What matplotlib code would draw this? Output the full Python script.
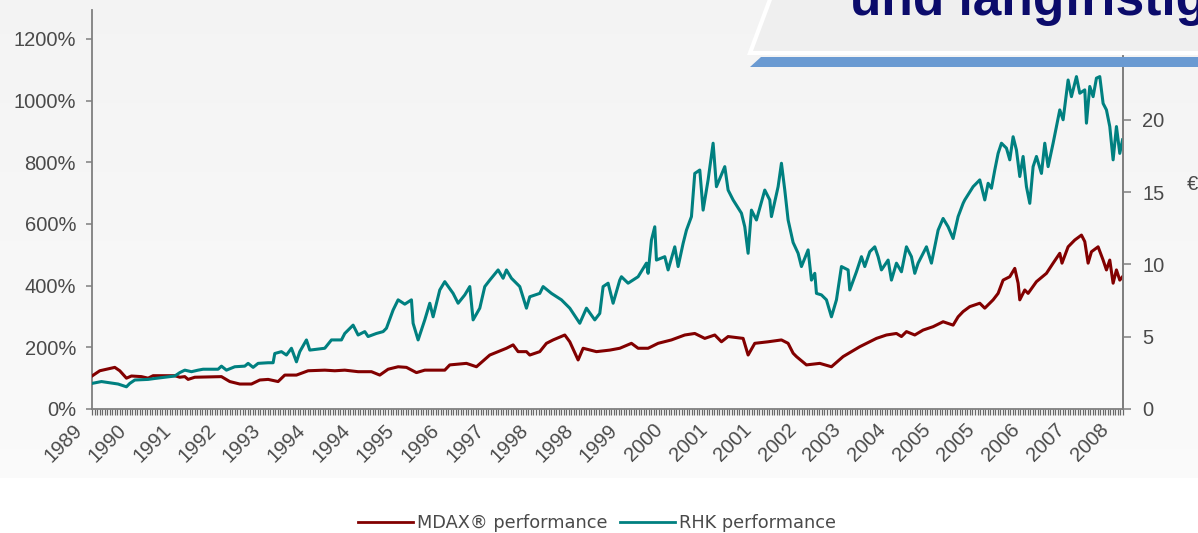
import numpy as np
import matplotlib
matplotlib.use("Agg")
import matplotlib.pyplot as plt
from matplotlib.patches import Polygon
from matplotlib.lines import Line2D
from matplotlib.transforms import ScaledTranslation, blended_transform_factory

# ---------------- data ----------------
mdax_t = [1989.90, 1990.04, 1990.31, 1990.40, 1990.52, 1990.61, 1990.79, 1990.91, 1991.00, 1991.39,
          1991.48, 1991.57, 1991.63, 1991.75, 1992.23, 1992.38, 1992.56, 1992.77, 1992.92, 1993.07,
          1993.25, 1993.37, 1993.58, 1993.79, 1994.09, 1994.27, 1994.45, 1994.69, 1994.93, 1995.08,
          1995.23, 1995.41, 1995.56, 1995.74, 1995.89, 1996.25, 1996.34, 1996.64, 1996.82, 1997.06,
          1997.36, 1997.48, 1997.57, 1997.72, 1997.78, 1997.96, 1998.08, 1998.20, 1998.41, 1998.50,
          1998.65, 1998.74, 1998.98, 1999.22, 1999.40, 1999.61, 1999.73, 1999.91, 2000.09, 2000.33,
          2000.57, 2000.75, 2000.93, 2001.11, 2001.23, 2001.35, 2001.62, 2001.71, 2001.83, 2002.07,
          2002.31, 2002.43, 2002.52, 2002.58, 2002.76, 2003.00, 2003.21, 2003.42, 2003.72, 2004.02,
          2004.20, 2004.38, 2004.47, 2004.56, 2004.71, 2004.86, 2005.04, 2005.22, 2005.40, 2005.49,
          2005.58, 2005.70, 2005.88, 2005.97, 2006.12, 2006.21, 2006.30, 2006.42, 2006.51, 2006.57,
          2006.60, 2006.69, 2006.75, 2006.90, 2007.08, 2007.20, 2007.32, 2007.36, 2007.47, 2007.59,
          2007.71, 2007.77, 2007.83, 2007.89, 2008.01, 2008.10, 2008.16, 2008.22, 2008.28, 2008.34,
          2008.40, 2008.45]
mdax_v = [107, 124, 135, 124, 100, 107, 105, 100, 108, 108,
          103, 105, 96, 103, 105, 89, 81, 81, 94, 96,
          89, 110, 110, 124, 126, 124, 126, 121, 121, 110,
          129, 137, 135, 118, 126, 126, 143, 148, 137, 175,
          197, 208, 186, 186, 175, 186, 213, 224, 240, 218,
          159, 197, 186, 191, 197, 213, 197, 197, 213, 224,
          240, 245, 229, 240, 218, 235, 229, 175, 213, 218,
          224, 213, 181, 170, 143, 148, 137, 170, 202, 229,
          240, 245, 235, 251, 240, 256, 267, 283, 272, 299,
          316, 332, 343, 327, 354, 375, 418, 429, 456, 408,
          354, 386, 375, 413, 440, 473, 505, 473, 526, 548,
          564, 543, 473, 510, 526, 483, 451, 483, 408, 451,
          418, 429]

rhk_t = [1989.90, 1990.07, 1990.37, 1990.52, 1990.58, 1990.67, 1990.91, 1991.03, 1991.21, 1991.39,
         1991.48, 1991.57, 1991.69, 1991.81, 1991.90, 1992.17, 1992.23, 1992.32, 1992.47, 1992.65,
         1992.71, 1992.80, 1992.89, 1993.07, 1993.16, 1993.19, 1993.31, 1993.40, 1993.49, 1993.58,
         1993.64, 1993.76, 1993.82, 1994.09, 1994.21, 1994.39, 1994.45, 1994.60, 1994.69, 1994.81,
         1994.87, 1995.02, 1995.14, 1995.20, 1995.32, 1995.41, 1995.53, 1995.65, 1995.68, 1995.77,
         1995.89, 1995.98, 1996.04, 1996.16, 1996.25, 1996.40, 1996.49, 1996.61, 1996.70, 1996.76,
         1996.88, 1996.97, 1997.06, 1997.21, 1997.30, 1997.36, 1997.45, 1997.60, 1997.72, 1997.78,
         1997.96, 1998.02, 1998.17, 1998.35, 1998.50, 1998.68, 1998.80, 1998.95, 1999.04, 1999.10,
         1999.19, 1999.28, 1999.40, 1999.43, 1999.55, 1999.73, 1999.88, 1999.91, 1999.97, 2000.03,
         2000.06, 2000.21, 2000.27, 2000.39, 2000.45, 2000.54, 2000.60, 2000.69, 2000.75, 2000.84,
         2000.90, 2000.99, 2001.08, 2001.14, 2001.29, 2001.35, 2001.44, 2001.59, 2001.65, 2001.71,
         2001.77, 2001.86, 2002.01, 2002.10, 2002.13, 2002.25, 2002.31, 2002.37, 2002.43, 2002.52,
         2002.61, 2002.67, 2002.79, 2002.85, 2002.91, 2002.94, 2003.03, 2003.12, 2003.21, 2003.30,
         2003.39, 2003.51, 2003.54, 2003.66, 2003.75, 2003.81, 2003.90, 2003.99, 2004.05, 2004.11,
         2004.23, 2004.29, 2004.38, 2004.47, 2004.56, 2004.65, 2004.71, 2004.77, 2004.92, 2005.01,
         2005.13, 2005.22, 2005.31, 2005.40, 2005.49, 2005.58, 2005.61, 2005.76, 2005.88, 2005.97,
         2006.03, 2006.09, 2006.15, 2006.21, 2006.27, 2006.36, 2006.42, 2006.48, 2006.54, 2006.60,
         2006.66, 2006.72, 2006.78, 2006.84, 2006.90, 2006.99, 2007.05, 2007.11, 2007.20, 2007.26,
         2007.32, 2007.38, 2007.47, 2007.53, 2007.62, 2007.68, 2007.77, 2007.80, 2007.86, 2007.92,
         2007.98, 2008.04, 2008.10, 2008.16, 2008.22, 2008.28, 2008.34, 2008.40, 2008.45]
rhk_v = [83, 89, 81, 72, 83, 94, 96, 99, 103, 107,
         118, 126, 121, 126, 129, 129, 139, 126, 137, 139,
         148, 135, 148, 150, 150, 180, 186, 175, 197, 153,
         186, 224, 191, 197, 224, 224, 245, 272, 240, 251,
         235, 245, 251, 262, 321, 354, 340, 354, 278, 224,
         289, 343, 299, 386, 413, 375, 343, 370, 397, 289,
         327, 397, 418, 451, 424, 451, 424, 397, 327, 364,
         375, 397, 375, 354, 327, 278, 327, 289, 310, 397,
         408, 343, 418, 429, 408, 429, 473, 440, 548, 591,
         483, 494, 451, 526, 462, 537, 580, 624, 764, 775,
         645, 743, 862, 721, 786, 710, 678, 635, 591, 505,
         645, 613, 710, 678, 624, 721, 797, 710, 613, 540,
         505, 462, 516, 418, 440, 375, 370, 354, 299, 354,
         462, 451, 386, 445, 494, 462, 510, 526, 494, 451,
         483, 418, 473, 445, 526, 494, 440, 473, 526, 473,
         580, 618, 591, 553, 624, 667, 678, 721, 743, 678,
         732, 716, 775, 829, 862, 846, 808, 883, 840, 754,
         819, 721, 667, 786, 819, 764, 862, 786, 862, 916,
         970, 938, 1067, 1013, 1078, 1024, 1035, 927, 1046, 1013,
         1073, 1078, 991, 970, 916, 808, 916, 829, 873]

year_labels = ["1989", "1990", "1991", "1992", "1993", "1994", "1994", "1995", "1996", "1997",
               "1998", "1998", "1999", "2000", "2001", "2001", "2002", "2003", "2004", "2005",
               "2005", "2006", "2007", "2008"]
left_ticks = [0, 200, 400, 600, 800, 1000, 1200]
left_labels = ["0%", "200%", "400%", "600%", "800%", "1000%", "1200%"]
right_ticks = [0, 5, 10, 15, 20]
right_labels = ["0", "5", "10", "15", "20"]
legend_labels = ["MDAX\u00ae performance", "RHK performance"]
title_text = "und langfristig"
unit_text = "\u20ac"

# ---------------- styling ----------------
W, H = 1198, 533
MDAX_C = "#820000"
RHK_C = "#008080"
TXT_C = "#4a4a4a"
AX_C = "#7f7f7f"
FONT = "Liberation Sans"

fig = plt.figure(figsize=(W / 100, H / 100), dpi=100)
fig.patch.set_facecolor("white")

# background gradient (upper part of slide)
bg = fig.add_axes([0, 0, 1, 1], zorder=-10)
bg.set_xlim(0, W)
bg.set_ylim(H, 0)
bg.set_axis_off()
g = np.linspace(0, 1, 256)[:, None, None]
top = np.array([0.955, 0.955, 0.955])
bot = np.array([0.982, 0.982, 0.982])
grad = top * (1 - g) + bot * g
bg.imshow(grad, extent=[0, W, 478, 0], aspect="auto", interpolation="bilinear")

# main axes
x0, x1 = 1989.9, 2008.458
ax = fig.add_axes([92 / W, 1 - 409 / H, (1123 - 92) / W, (409 - 10) / H])
ax.set_facecolor("none")
ax.plot(mdax_t, mdax_v, color=MDAX_C, lw=2.2, zorder=3)
ax.plot(rhk_t, rhk_v, color=RHK_C, lw=2.2, zorder=4)
ax.set_xlim(x0, x1)
ax.set_ylim(0, 1294)

ax.spines["top"].set_visible(False)
for s in ["left", "bottom", "right"]:
    ax.spines[s].set_color(AX_C)
    ax.spines[s].set_linewidth(1.3)

ax.set_yticks(left_ticks)
ax.set_yticklabels(left_labels, fontfamily=FONT)
ax.tick_params(axis="y", which="major", length=4.5, width=1.1, color=AX_C,
               labelsize=14.5, labelcolor=TXT_C, pad=7, direction="out")

ax.set_xticks([])
ax.set_xticks(np.linspace(x0, x1, 412), minor=True)
ax.tick_params(axis="x", which="minor", length=4, width=0.9, color="#6a6a6a", direction="out")

# rotated year labels (category-style, evenly spaced)
span = (x1 - x0) / 1031.0
lab_pos = np.linspace(x0 + (-13) * span, x0 + (-13 + 23 * 44.65) * span, len(year_labels))
trans = blended_transform_factory(ax.transData, ax.transAxes) + \
    ScaledTranslation(0, -18 / 100, fig.dpi_scale_trans)
for xp, lab in zip(lab_pos, year_labels):
    ax.text(xp, 0, lab, transform=trans, rotation=45, rotation_mode="anchor",
            ha="right", va="center", fontsize=14.5, color=TXT_C,
            fontfamily=FONT, clip_on=False)

# right axis
ax2 = ax.twinx()
ax2.set_ylim(0, 27.61)
ax2.set_yticks(right_ticks)
ax2.set_yticklabels(right_labels, fontfamily=FONT)
for s in ["top", "left", "bottom"]:
    ax2.spines[s].set_visible(False)
ax2.spines["right"].set_color(AX_C)
ax2.spines["right"].set_linewidth(1.3)
ax2.tick_params(axis="y", length=6, width=1.1, color=AX_C, labelsize=14.5,
                labelcolor=TXT_C, pad=8)
ax2.set_facecolor("none")

fig.text(1187 / W, 1 - 185 / H, unit_text, fontsize=14.5, color=TXT_C,
         fontfamily=FONT, ha="left", va="center")

# legend
handles = [Line2D([], [], color=MDAX_C, lw=2), Line2D([], [], color=RHK_C, lw=2)]
leg = fig.legend(handles, legend_labels, loc="center", bbox_to_anchor=(597 / W, 1 - 523 / H),
                 ncol=2, frameon=False, handlelength=3.1, handletextpad=0.2,
                 columnspacing=0.7, prop={"family": "DejaVu Sans", "size": 12.8})
for t in leg.get_texts():
    t.set_color(TXT_C)

# title box overlay (top right)
ov = fig.add_axes([0, 0, 1, 1], zorder=20)
ov.set_xlim(0, W)
ov.set_ylim(H, 0)
ov.set_axis_off()
ov.patch.set_alpha(0)
ov.add_patch(Polygon([(772, -6), (W + 6, -6), (W + 6, 53), (750, 53)], closed=True,
                     facecolor="#efefef", edgecolor="white", lw=3))
ov.add_patch(Polygon([(761, 57), (W + 6, 57), (W + 6, 67), (750, 67)], closed=True,
                     facecolor="#6a9ad2", edgecolor="none"))
ov.text(850, 15, title_text, fontsize=37, fontweight="bold", color="#0b0b6b",
        fontfamily=FONT, ha="left", va="baseline")

fig.savefig("out.png", dpi=100, facecolor=fig.get_facecolor())
